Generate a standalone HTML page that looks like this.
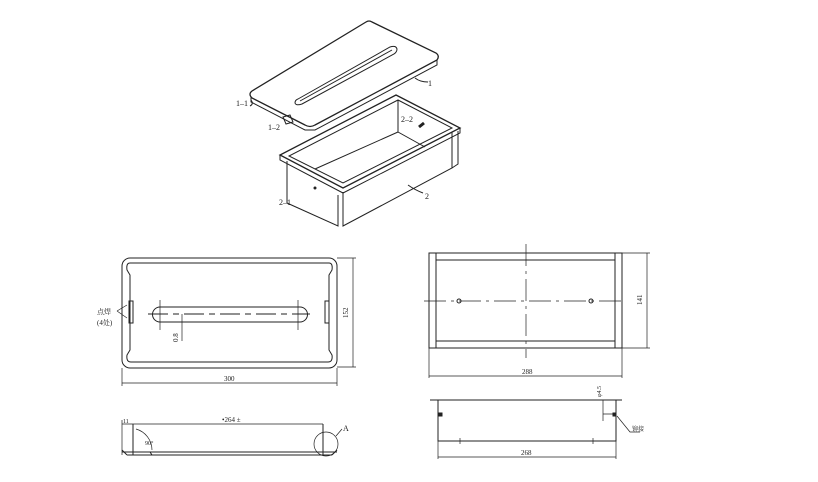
<!DOCTYPE html>
<html><head><meta charset="utf-8"><style>
html,body{margin:0;padding:0;background:#fff;}
svg{display:block;}
text{font-family:"Liberation Serif","Noto Serif CJK SC",serif;fill:#222;}
</style></head><body>
<svg width="818" height="482" viewBox="0 0 818 482" xmlns="http://www.w3.org/2000/svg" fill="none" stroke="#222" stroke-width="1">
<!-- Lid isometric -->
<path d="M372,22 L436,53 Q440,56 437,60 L315,125 Q310,128 305,125 L252,98 Q248,94 252,91 L366,22 Q369,20 372,22 Z" stroke-width="1.3"/>
<path d="M437,60 L437,65 L315,130 L305,130 L251,102 L251,97"/>
<path d="M298,99 L390,47 Q396,45 397,49 Q397,52 394,54 L302,104 Q296,106 295,103 Q295,100 298,99 Z"/>
<path d="M300,101 L392,50"/>
<path d="M283,117 L290,115 L293,122 L286,124 Z"/>
<text x="236" y="106" font-size="8" stroke="none">1–1</text>
<path d="M251,100 Q254,104 250,106"/>
<text x="268" y="130" font-size="8" stroke="none">1–2</text>
<text x="428" y="86" font-size="8" stroke="none">1</text>
<path d="M415,78 Q420,82 428,82"/>
<!-- Box isometric -->
<path d="M396,95 L460,128 L343,188 L280,155 Z" stroke-width="1.3"/>
<path d="M398,100 L452,128 L343,183 L289,156 Z"/>
<path d="M398,100 L398,132 L425,147"/>
<path d="M398,132 L315,169"/>
<path d="M287,161 L287,203 L338,226 L338,195"/>
<path d="M343,192 L343,226 L452,168 L452,132"/>
<path d="M458,131 L458,164 L452,168"/>
<path d="M280,155 L280,160 L343,193 L460,133 L460,128"/>
<circle cx="315" cy="188" r="1" fill="#222"/>
<path d="M419,127 L424,123" stroke-width="3"/>
<text x="401" y="122" font-size="8" stroke="none">2–2</text>
<text x="425" y="199" font-size="8" stroke="none">2</text>
<path d="M408,185 Q415,190 423,193"/>
<text x="279" y="205" font-size="8" stroke="none">2–1</text>
<!-- Top view lid -->
<rect x="122" y="258" width="215" height="110" rx="8"/>
<path d="M130,263 L329,263 Q333,263 332,270 L329,275 L329,350 L332,355 Q333,362 328,362 L131,362 Q126,362 127,355 L130,350 L130,275 L127,270 Q126,263 130,263 Z"/>
<rect x="129" y="301" width="4" height="22"/>
<rect x="325" y="301" width="4" height="22"/>
<path d="M160,307 L300,307 A7.5,7.5 0 0 1 300,322 L160,322 A7.5,7.5 0 0 1 160,307 Z"/>
<path d="M148,314 L310,314" stroke-dasharray="20,5,6,5"/>
<path d="M160,300 L160,330 M298,300 L298,330" stroke-width="0.7"/>
<path d="M182,314 L182,341" stroke-width="0.7"/>
<text x="178" y="342" font-size="7" stroke="none" transform="rotate(-90 178 342)">0.8</text>
<path d="M337,258 L356,258 M337,367 L356,367 M353,258 L353,367" stroke-width="0.7"/>
<text x="348" y="318" font-size="7" stroke="none" transform="rotate(-90 348 318)">152</text>
<path d="M122,368 L122,386 M337,368 L337,386 M122,383 L337,383" stroke-width="0.7"/>
<text x="224" y="381" font-size="7" stroke="none">300</text>
<text x="97" y="314" font-size="7" stroke="none">点焊</text>
<text x="97" y="325" font-size="7" stroke="none">(4处)</text>
<path d="M117,311 L127,305 M117,311 L127,318" stroke-width="0.7"/>
<!-- Side view lid -->
<path d="M122,420 L122,455 M122,424 L133,424 M133,424 L323,424" stroke-width="0.7"/>
<path d="M133,424 L133,455 M323,424 L323,455"/>
<path d="M122,452 L337,452 M127,455 L332,455 M122,450 L127,455 M337,450 L332,455"/>
<path d="M136,452 L150,452 L152,455 M305,452 L318,452"/>
<path d="M136,429 A22,22 0 0 1 152,450" stroke-width="0.7"/>
<circle cx="326" cy="444" r="12" stroke-width="0.7"/>
<text x="123" y="423" font-size="6" stroke="none">11</text>
<text x="222" y="422" font-size="7" stroke="none">•264 ±</text>
<text x="145" y="445" font-size="6" stroke="none">90°</text>
<path d="M336,436 L342,429" stroke-width="0.7"/>
<text x="343" y="431" font-size="8" stroke="none">A</text>
<!-- Top view box -->
<rect x="429" y="253" width="193" height="95"/>
<path d="M436,253 L436,348 M615,253 L615,348 M436,260 L615,260 M436,341 L615,341"/>
<path d="M526,244 L526,358" stroke-width="0.7" stroke-dasharray="22,5,3,5"/>
<path d="M424,301 L626,301" stroke-width="0.7" stroke-dasharray="22,5,3,5"/>
<circle cx="459" cy="301" r="2"/>
<circle cx="591" cy="301" r="2"/>
<path d="M622,253 L650,253 M622,348 L650,348 M647,253 L647,348" stroke-width="0.7"/>
<text x="642" y="305" font-size="7" stroke="none" transform="rotate(-90 642 305)">141</text>
<path d="M429,348 L429,378 M622,348 L622,378 M429,376 L622,376" stroke-width="0.7"/>
<text x="522" y="374" font-size="7" stroke="none">288</text>
<!-- Side view box -->
<path d="M430,400 L622,400"/>
<path d="M438,400 L438,441 L616,441 L616,400"/>
<rect x="439" y="413" width="3" height="3" fill="#222"/>
<rect x="613" y="413" width="3" height="3" fill="#222"/>
<path d="M460,438 L460,444 M593,438 L593,444" stroke-width="0.7"/>
<path d="M603,400 L603,421 M603,414 L614,414" stroke-width="0.7"/>
<text x="601" y="397" font-size="6" stroke="none" transform="rotate(-90 601 397)">φ4.5</text>
<path d="M617,416 L630,432 L640,432" stroke-width="0.7"/>
<text x="632" y="431" font-size="6" stroke="none">铆接</text>
<path d="M438,441 L438,459 M616,441 L616,459 M438,457 L616,457" stroke-width="0.7"/>
<text x="521" y="455" font-size="7" stroke="none">268</text>
</svg>
</body></html>
